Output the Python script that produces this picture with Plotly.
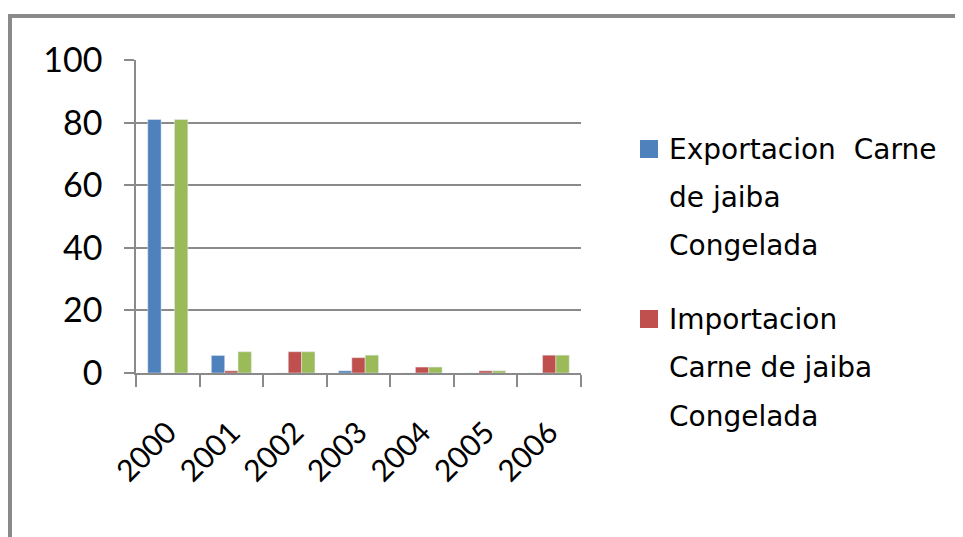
import plotly.graph_objects as go

years = ["2000", "2001", "2002", "2003", "2004", "2005", "2006"]
exportacion = [81, 5.6, 0, 0.7, 0, 0, 0]
importacion = [0, 0.7, 6.8, 4.9, 1.9, 0.7, 5.7]
total = [81, 6.8, 6.8, 5.7, 1.9, 0.7, 5.7]

legend_lines = [
    ["Exportacion  Carne", "de jaiba", "Congelada"],
    ["Importacion", "Carne de jaiba", "Congelada"],
]
colors = ["#4f81bd", "#c0504d", "#9bbb59"]
y_ticks = [0, 20, 40, 60, 80, 100]

font_family = "Lato, 'Open Sans', sans-serif"
legend_family = "'DejaVu Sans', sans-serif"
grid = "#8a8a8a"

fig = go.Figure()
fig.add_trace(go.Bar(x=years, y=exportacion, name=" ".join(legend_lines[0]),
                     marker=dict(color=colors[0]), showlegend=False))
fig.add_trace(go.Bar(x=years, y=importacion, name=" ".join(legend_lines[1]),
                     marker=dict(color=colors[1]), showlegend=False))
fig.add_trace(go.Bar(x=years, y=total, name="Total",
                     marker=dict(color=colors[2]), showlegend=False))

# page body has an 8px default margin: size the figure so it fills the window
OFF = 8
W, H = 963 - OFF, 537 - OFF
L, T = 136 - OFF, 60 - OFF
R, B = 382, 164
pw, ph = W - L - R, H - T - B

def px_x(px):
    return (px - OFF - L) / pw

def px_y(py):
    return (H - B - (py - OFF)) / ph

# Manual legend (markers + wrapped text with Excel-like line spacing)
shapes = []
annotations = []
entry_tops = [149, 319]
for i, lines in enumerate(legend_lines):
    yc = entry_tops[i]
    shapes.append(dict(type="rect", xref="paper", yref="paper",
                       x0=px_x(640), x1=px_x(658), y0=px_y(yc - 9), y1=px_y(yc + 9),
                       fillcolor=colors[i], line=dict(width=0)))
    for j, t in enumerate(lines):
        annotations.append(dict(text=t, xref="paper", yref="paper",
                                x=px_x(667), y=px_y(yc + 48.5 * j),
                                xanchor="left", yanchor="middle", showarrow=False,
                                font=dict(family=legend_family, size=28, color="#000000")))

# Outer chart frame (left and top edges visible)
shapes.append(dict(type="line", xref="paper", yref="paper",
                   x0=px_x(10), x1=px_x(10), y0=px_y(545), y1=px_y(14),
                   line=dict(color="#8a8a8a", width=4)))
shapes.append(dict(type="line", xref="paper", yref="paper",
                   x0=px_x(8), x1=px_x(975), y0=px_y(16), y1=px_y(16),
                   line=dict(color="#8a8a8a", width=4)))

fig.update_layout(
    width=W, height=H,
    margin=dict(l=L, r=R, t=T, b=B),
    paper_bgcolor="white", plot_bgcolor="white",
    barmode="group", bargap=0.37, bargroupgap=0,
    showlegend=False,
    font=dict(family=font_family, color="#000000"),
    shapes=shapes, annotations=annotations,
)
fig.update_xaxes(
    type="category", tickson="boundaries", ticks="outside", ticklen=12,
    tickcolor=grid, tickwidth=1.5, showline=True, linecolor=grid, linewidth=1.5,
    tickangle=-45, tickfont=dict(size=30, family=font_family),
    ticklabelstandoff=28, showgrid=False,
)
fig.update_yaxes(
    range=[0, 100], tickvals=y_ticks, ticks="outside", ticklen=10,
    tickcolor=grid, tickwidth=1.5, showline=True, linecolor=grid, linewidth=1.5,
    showgrid=True, gridcolor=grid, gridwidth=1.5, zeroline=False,
    tickfont=dict(size=34, family=font_family), ticklabelstandoff=15,
)

fig.write_html("out.html")
